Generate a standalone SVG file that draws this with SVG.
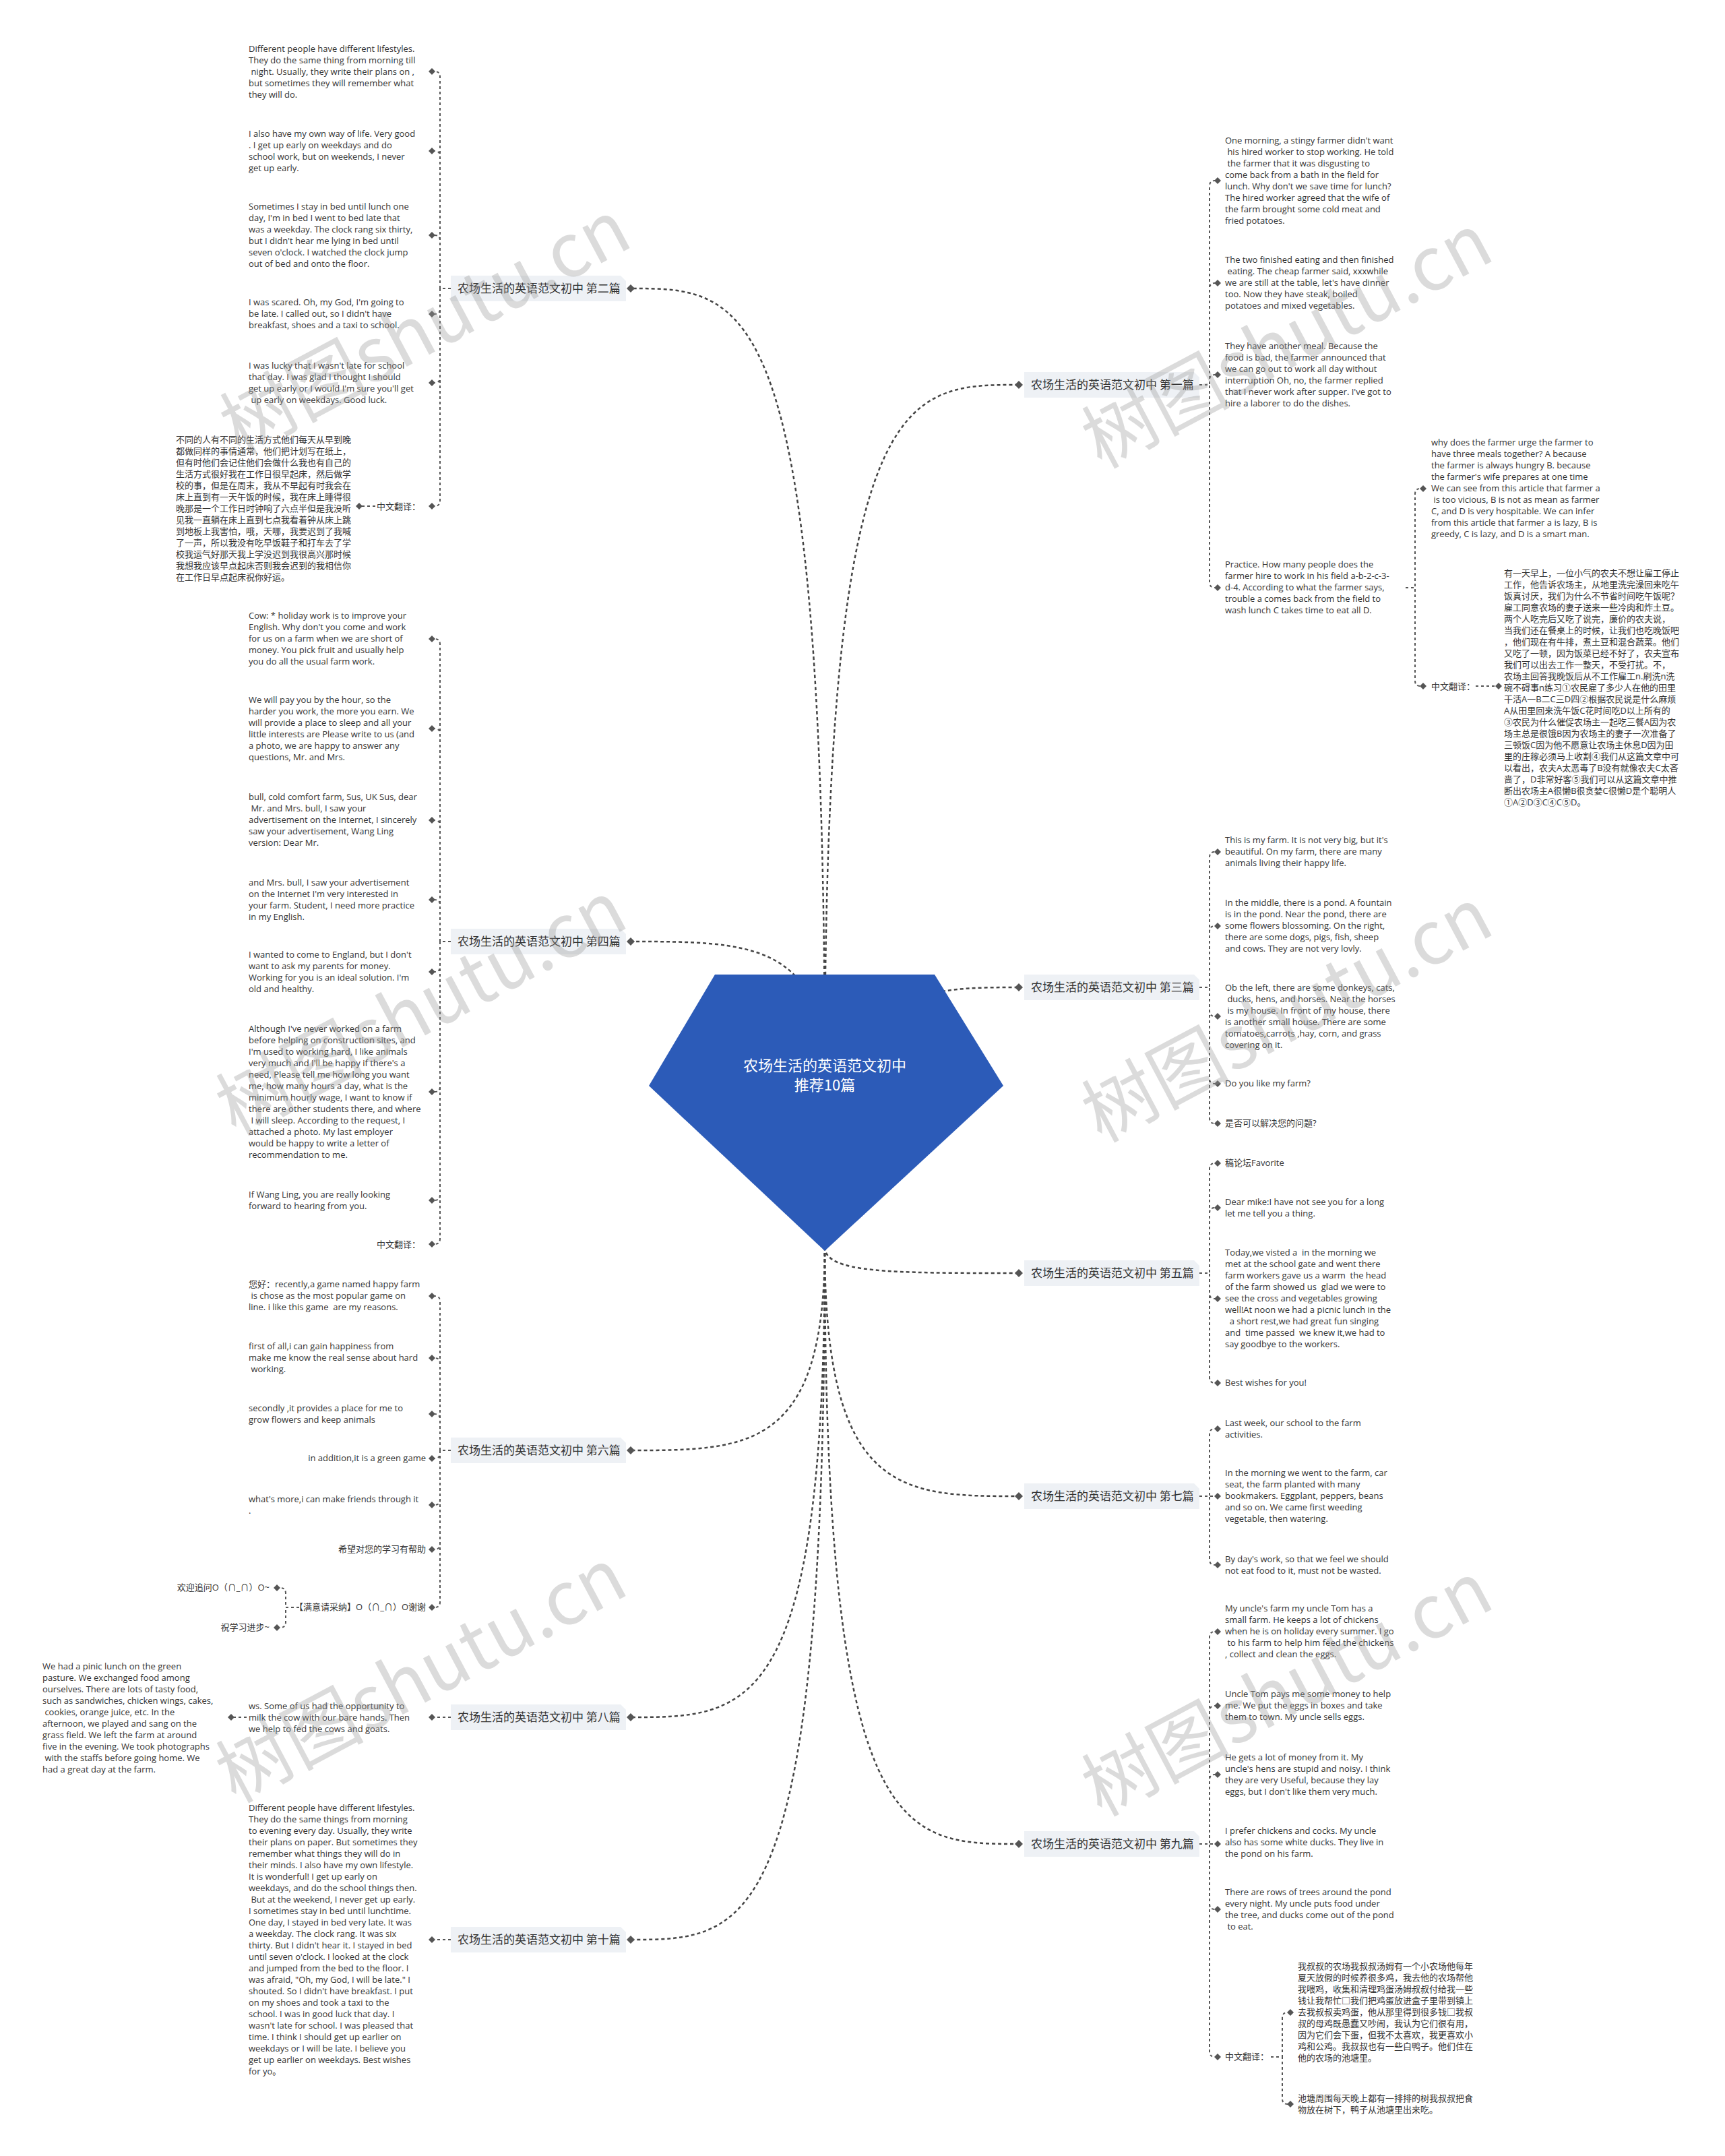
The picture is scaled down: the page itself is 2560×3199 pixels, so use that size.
<svg xmlns="http://www.w3.org/2000/svg" xmlns:xlink="http://www.w3.org/1999/xlink" width="2560" height="3199" viewBox="0 0 2560 3199">
<style>
.t{font-family:"Open Sans","Noto Sans CJK SC",sans-serif;font-size:13px;fill:#333;white-space:pre}
.lb{font-family:"Noto Sans CJK SC",sans-serif;font-size:17px;fill:#333}
.tag{fill:#eef1f5}
.c{fill:none;stroke:#555;stroke-width:2;stroke-dasharray:4 4}
.m{fill:none;stroke:#444;stroke-width:2.5;stroke-dasharray:5 4}
.dm{fill:#555}
.ct{font-family:"Noto Sans CJK SC",sans-serif;font-size:22px;fill:#fff}
.wm{font-family:"Noto Sans CJK SC","Open Sans",sans-serif;font-size:110px;fill:#999;opacity:.35}
</style>
<defs>
<path id="tag" d="M0,-19 H252 L260,-11 V19 H0 Z"/>
<path id="d" d="M0,-5 L5,0 L0,5 L-5,0 Z"/>
<path id="D" d="M0,-6 L6,0 L0,6 L-6,0 Z"/>
</defs>
<rect width="2560" height="3199" fill="#fff"/>

<g id="connectors">
<path class="m" d="M1224,1600 C1224,571 1340,571 1512,571"/>
<path class="m" d="M1224,1600 C1224,428 1110,428 936,428"/>
<path class="m" d="M1224,1600 C1300,1465 1400,1465 1512,1465"/>
<path class="m" d="M1224,1600 C1224,1397 1110,1397 936,1397"/>
<path class="m" d="M1224,1850 C1224,1889 1320,1889 1512,1889"/>
<path class="m" d="M1224,1850 C1224,2152 1110,2152 936,2152"/>
<path class="m" d="M1224,1850 C1224,2220 1340,2220 1512,2220"/>
<path class="m" d="M1224,1850 C1224,2548 1110,2548 936,2548"/>
<path class="m" d="M1224,1850 C1224,2736 1340,2736 1512,2736"/>
<path class="m" d="M1224,1850 C1224,2878 1110,2878 936,2878"/>
<path class="c" d="M669,428H653V114Q653,106 645,106"/>
<path class="c" d="M669,428H653V232Q653,224 645,224"/>
<path class="c" d="M669,428H653V357Q653,349 645,349"/>
<path class="c" d="M669,428H653V458Q653,466 645,466"/>
<path class="c" d="M669,428H653V560Q653,568 645,568"/>
<path class="c" d="M669,428H653V743Q653,751 645,751"/>
<path class="c" d="M557,751H537"/>
<path class="c" d="M669,1397H653V956Q653,948 645,948"/>
<path class="c" d="M669,1397H653V1089Q653,1081 645,1081"/>
<path class="c" d="M669,1397H653V1225Q653,1217 645,1217"/>
<path class="c" d="M669,1397H653V1343Q653,1335 645,1335"/>
<path class="c" d="M669,1397H653V1434Q653,1442 645,1442"/>
<path class="c" d="M669,1397H653V1612Q653,1620 645,1620"/>
<path class="c" d="M669,1397H653V1773Q653,1781 645,1781"/>
<path class="c" d="M669,1397H653V1838Q653,1846 645,1846"/>
<path class="c" d="M669,2152H653V1931Q653,1923 645,1923"/>
<path class="c" d="M669,2152H653V2023Q653,2015 645,2015"/>
<path class="c" d="M669,2152H653V2106Q653,2098 645,2098"/>
<path class="c" d="M669,2152H653V2156Q653,2164 645,2164"/>
<path class="c" d="M669,2152H653V2225Q653,2233 645,2233"/>
<path class="c" d="M669,2152H653V2291Q653,2299 645,2299"/>
<path class="c" d="M669,2152H653V2377Q653,2385 645,2385"/>
<path class="c" d="M444,2385H424V2364Q424,2356 416,2356"/>
<path class="c" d="M444,2385H424V2407Q424,2415 416,2415"/>
<path class="c" d="M669,2548H645"/>
<path class="c" d="M366,2548H347"/>
<path class="c" d="M669,2878H645"/>
<path class="c" d="M1780,571H1795V276Q1795,268 1803,268"/>
<path class="c" d="M1780,571H1795V428Q1795,420 1803,420"/>
<path class="c" d="M1780,571H1795V564Q1795,556 1803,556"/>
<path class="c" d="M1780,571H1795V864Q1795,872 1803,872"/>
<path class="c" d="M2086,872H2100V733Q2100,725 2108,725"/>
<path class="c" d="M2086,872H2100V1010Q2100,1018 2108,1018"/>
<path class="c" d="M2190,1018H2220"/>
<path class="c" d="M1780,1465H1795V1272Q1795,1264 1803,1264"/>
<path class="c" d="M1780,1465H1795V1382Q1795,1374 1803,1374"/>
<path class="c" d="M1780,1465H1795V1500Q1795,1508 1803,1508"/>
<path class="c" d="M1780,1465H1795V1600Q1795,1608 1803,1608"/>
<path class="c" d="M1780,1465H1795V1659Q1795,1667 1803,1667"/>
<path class="c" d="M1780,1889H1795V1734Q1795,1726 1803,1726"/>
<path class="c" d="M1780,1889H1795V1800Q1795,1792 1803,1792"/>
<path class="c" d="M1780,1889H1795V1919Q1795,1927 1803,1927"/>
<path class="c" d="M1780,1889H1795V2044Q1795,2052 1803,2052"/>
<path class="c" d="M1780,2220H1795V2128Q1795,2120 1803,2120"/>
<path class="c" d="M1780,2220H1803"/>
<path class="c" d="M1780,2220H1795V2314Q1795,2322 1803,2322"/>
<path class="c" d="M1780,2736H1795V2429Q1795,2421 1803,2421"/>
<path class="c" d="M1780,2736H1795V2539Q1795,2531 1803,2531"/>
<path class="c" d="M1780,2736H1795V2641Q1795,2633 1803,2633"/>
<path class="c" d="M1780,2736H1803"/>
<path class="c" d="M1780,2736H1795V2825Q1795,2833 1803,2833"/>
<path class="c" d="M1780,2736H1795V3044Q1795,3052 1803,3052"/>
<path class="c" d="M1886,3052H1903V2994Q1903,2986 1911,2986"/>
<path class="c" d="M1886,3052H1903V3114Q1903,3122 1911,3122"/>
<g class="dm">
<use href="#D" x="936" y="428"/><use href="#D" x="936" y="1397"/><use href="#D" x="936" y="2152"/><use href="#D" x="936" y="2548"/><use href="#D" x="936" y="2878"/>
<use href="#D" x="1512" y="571"/><use href="#D" x="1512" y="1465"/><use href="#D" x="1512" y="1889"/><use href="#D" x="1512" y="2220"/><use href="#D" x="1512" y="2736"/>
<use href="#d" x="641" y="106"/><use href="#d" x="641" y="224"/><use href="#d" x="641" y="349"/><use href="#d" x="641" y="466"/><use href="#d" x="641" y="568"/><use href="#d" x="641" y="751"/><use href="#d" x="533" y="751"/>
<use href="#d" x="641" y="948"/><use href="#d" x="641" y="1081"/><use href="#d" x="641" y="1217"/><use href="#d" x="641" y="1335"/><use href="#d" x="641" y="1442"/><use href="#d" x="641" y="1620"/><use href="#d" x="641" y="1781"/><use href="#d" x="641" y="1846"/>
<use href="#d" x="641" y="1923"/><use href="#d" x="641" y="2015"/><use href="#d" x="641" y="2098"/><use href="#d" x="641" y="2164"/><use href="#d" x="641" y="2233"/><use href="#d" x="641" y="2299"/><use href="#d" x="641" y="2385"/><use href="#d" x="411" y="2356"/><use href="#d" x="411" y="2415"/>
<use href="#d" x="641" y="2548"/><use href="#d" x="343" y="2548"/><use href="#d" x="641" y="2878"/>
<use href="#d" x="1807" y="268"/><use href="#d" x="1807" y="420"/><use href="#d" x="1807" y="556"/><use href="#d" x="1807" y="872"/><use href="#d" x="2112" y="725"/><use href="#d" x="2112" y="1018"/><use href="#d" x="2224" y="1018"/>
<use href="#d" x="1807" y="1264"/><use href="#d" x="1807" y="1374"/><use href="#d" x="1807" y="1508"/><use href="#d" x="1807" y="1608"/><use href="#d" x="1807" y="1667"/>
<use href="#d" x="1807" y="1726"/><use href="#d" x="1807" y="1792"/><use href="#d" x="1807" y="1927"/><use href="#d" x="1807" y="2052"/>
<use href="#d" x="1807" y="2120"/><use href="#d" x="1807" y="2220"/><use href="#d" x="1807" y="2322"/>
<use href="#d" x="1807" y="2421"/><use href="#d" x="1807" y="2531"/><use href="#d" x="1807" y="2633"/><use href="#d" x="1807" y="2736"/><use href="#d" x="1807" y="2833"/><use href="#d" x="1807" y="3052"/><use href="#d" x="1915" y="2986"/><use href="#d" x="1915" y="3122"/>
</g>
</g>

<g id="root">
<polygon points="1061,1446 1387,1446 1489,1611 1224,1856 963,1611" fill="#2c5bb8"/>
<text class="ct" x="1224" y="1589" text-anchor="middle">农场生活的英语范文初中</text>
<text class="ct" x="1224" y="1618" text-anchor="middle">推荐10篇</text>
</g>

<g id="b1"><use class="tag" href="#tag" x="1520" y="571"/><text class="lb" x="1530" y="577">农场生活的英语范文初中 第一篇</text></g>
<g id="b2"><use class="tag" href="#tag" x="669" y="428"/><text class="lb" x="679" y="434">农场生活的英语范文初中 第二篇</text></g>
<g id="b3"><use class="tag" href="#tag" x="1520" y="1465"/><text class="lb" x="1530" y="1471">农场生活的英语范文初中 第三篇</text></g>
<g id="b4"><use class="tag" href="#tag" x="669" y="1397"/><text class="lb" x="679" y="1403">农场生活的英语范文初中 第四篇</text></g>
<g id="b5"><use class="tag" href="#tag" x="1520" y="1889"/><text class="lb" x="1530" y="1895">农场生活的英语范文初中 第五篇</text></g>
<g id="b6"><use class="tag" href="#tag" x="669" y="2152"/><text class="lb" x="679" y="2158">农场生活的英语范文初中 第六篇</text></g>
<g id="b7"><use class="tag" href="#tag" x="1520" y="2220"/><text class="lb" x="1530" y="2226">农场生活的英语范文初中 第七篇</text></g>
<g id="b8"><use class="tag" href="#tag" x="669" y="2548"/><text class="lb" x="679" y="2554">农场生活的英语范文初中 第八篇</text></g>
<g id="b9"><use class="tag" href="#tag" x="1520" y="2736"/><text class="lb" x="1530" y="2742">农场生活的英语范文初中 第九篇</text></g>
<g id="b10"><use class="tag" href="#tag" x="669" y="2878"/><text class="lb" x="679" y="2884">农场生活的英语范文初中 第十篇</text></g>

<g id="b2-1"><text class="t" x="369" y="77"><tspan x="369">Different people have different lifestyles.</tspan><tspan x="369" dy="17">They do the same thing from morning till</tspan><tspan x="369" dy="17"> night. Usually, they write their plans on ,</tspan><tspan x="369" dy="17">but sometimes they will remember what</tspan><tspan x="369" dy="17">they will do.</tspan></text></g>
<g id="b2-2"><text class="t" x="369" y="203"><tspan x="369">I also have my own way of life. Very good</tspan><tspan x="369" dy="17">. I get up early on weekdays and do</tspan><tspan x="369" dy="17">school work, but on weekends, I never</tspan><tspan x="369" dy="17">get up early.</tspan></text></g>
<g id="b2-3"><text class="t" x="369" y="311"><tspan x="369">Sometimes I stay in bed until lunch one</tspan><tspan x="369" dy="17">day, I'm in bed I went to bed late that</tspan><tspan x="369" dy="17">was a weekday. The clock rang six thirty,</tspan><tspan x="369" dy="17">but I didn't hear me lying in bed until</tspan><tspan x="369" dy="17">seven o'clock. I watched the clock jump</tspan><tspan x="369" dy="17">out of bed and onto the floor.</tspan></text></g>
<g id="b2-4"><text class="t" x="369" y="453"><tspan x="369">I was scared. Oh, my God, I'm going to</tspan><tspan x="369" dy="17">be late. I called out, so I didn't have</tspan><tspan x="369" dy="17">breakfast, shoes and a taxi to school.</tspan></text></g>
<g id="b2-5"><text class="t" x="369" y="547"><tspan x="369">I was lucky that I wasn't late for school</tspan><tspan x="369" dy="17">that day. I was glad I thought I should</tspan><tspan x="369" dy="17">get up early or I would I'm sure you'll get</tspan><tspan x="369" dy="17"> up early on weekdays. Good luck.</tspan></text></g>
<g id="b2-6"><text class="t" x="624" y="756" text-anchor="end">中文翻译：</text></g>
<g id="b2-6-1"><text class="t" x="261" y="657"><tspan x="261">不同的人有不同的生活方式他们每天从早到晚</tspan><tspan x="261" dy="17">都做同样的事情通常，他们把计划写在纸上，</tspan><tspan x="261" dy="17">但有时他们会记住他们会做什么我也有自己的</tspan><tspan x="261" dy="17">生活方式很好我在工作日很早起床，然后做学</tspan><tspan x="261" dy="17">校的事，但是在周末，我从不早起有时我会在</tspan><tspan x="261" dy="17">床上直到有一天午饭的时候，我在床上睡得很</tspan><tspan x="261" dy="17">晚那是一个工作日时钟响了六点半但是我没听</tspan><tspan x="261" dy="17">见我一直躺在床上直到七点我看着钟从床上跳</tspan><tspan x="261" dy="17">到地板上我害怕，哦，天哪，我要迟到了我喊</tspan><tspan x="261" dy="17">了一声，所以我没有吃早饭鞋子和打车去了学</tspan><tspan x="261" dy="17">校我运气好那天我上学没迟到我很高兴那时候</tspan><tspan x="261" dy="17">我想我应该早点起床否则我会迟到的我相信你</tspan><tspan x="261" dy="17">在工作日早点起床祝你好运。</tspan></text></g>

<g id="b4-1"><text class="t" x="369" y="918"><tspan x="369">Cow: * holiday work is to improve your</tspan><tspan x="369" dy="17">English. Why don't you come and work</tspan><tspan x="369" dy="17">for us on a farm when we are short of</tspan><tspan x="369" dy="17">money. You pick fruit and usually help</tspan><tspan x="369" dy="17">you do all the usual farm work.</tspan></text></g>
<g id="b4-2"><text class="t" x="369" y="1043"><tspan x="369">We will pay you by the hour, so the</tspan><tspan x="369" dy="17">harder you work, the more you earn. We</tspan><tspan x="369" dy="17">will provide a place to sleep and all your</tspan><tspan x="369" dy="17">little interests are Please write to us (and</tspan><tspan x="369" dy="17">a photo, we are happy to answer any</tspan><tspan x="369" dy="17">questions, Mr. and Mrs.</tspan></text></g>
<g id="b4-3"><text class="t" x="369" y="1187"><tspan x="369">bull, cold comfort farm, Sus, UK Sus, dear</tspan><tspan x="369" dy="17"> Mr. and Mrs. bull, I saw your</tspan><tspan x="369" dy="17">advertisement on the Internet, I sincerely</tspan><tspan x="369" dy="17">saw your advertisement, Wang Ling</tspan><tspan x="369" dy="17">version: Dear Mr.</tspan></text></g>
<g id="b4-4"><text class="t" x="369" y="1314"><tspan x="369">and Mrs. bull, I saw your advertisement</tspan><tspan x="369" dy="17">on the Internet I'm very interested in</tspan><tspan x="369" dy="17">your farm. Student, I need more practice</tspan><tspan x="369" dy="17">in my English.</tspan></text></g>
<g id="b4-5"><text class="t" x="369" y="1421"><tspan x="369">I wanted to come to England, but I don't</tspan><tspan x="369" dy="17">want to ask my parents for money.</tspan><tspan x="369" dy="17">Working for you is an ideal solution. I'm</tspan><tspan x="369" dy="17">old and healthy.</tspan></text></g>
<g id="b4-6"><text class="t" x="369" y="1531"><tspan x="369">Although I've never worked on a farm</tspan><tspan x="369" dy="17">before helping on construction sites, and</tspan><tspan x="369" dy="17">I'm used to working hard, I like animals</tspan><tspan x="369" dy="17">very much and I'll be happy if there's a</tspan><tspan x="369" dy="17">need, Please tell me how long you want</tspan><tspan x="369" dy="17">me, how many hours a day, what is the</tspan><tspan x="369" dy="17">minimum hourly wage, I want to know if</tspan><tspan x="369" dy="17">there are other students there, and where</tspan><tspan x="369" dy="17"> I will sleep. According to the request, I</tspan><tspan x="369" dy="17">attached a photo. My last employer</tspan><tspan x="369" dy="17">would be happy to write a letter of</tspan><tspan x="369" dy="17">recommendation to me.</tspan></text></g>
<g id="b4-7"><text class="t" x="369" y="1777"><tspan x="369">If Wang Ling, you are really looking</tspan><tspan x="369" dy="17">forward to hearing from you.</tspan></text></g>
<g id="b4-8"><text class="t" x="624" y="1851" text-anchor="end">中文翻译：</text></g>

<g id="b6-1"><text class="t" x="369" y="1910"><tspan x="369">您好：recently,a game named happy farm</tspan><tspan x="369" dy="17"> is chose as the most popular game on</tspan><tspan x="369" dy="17">line. i like this game  are my reasons.</tspan></text></g>
<g id="b6-2"><text class="t" x="369" y="2002"><tspan x="369">first of all,i can gain happiness from</tspan><tspan x="369" dy="17">make me know the real sense about hard</tspan><tspan x="369" dy="17"> working.</tspan></text></g>
<g id="b6-3"><text class="t" x="369" y="2094"><tspan x="369">secondly ,it provides a place for me to</tspan><tspan x="369" dy="17">grow flowers and keep animals</tspan></text></g>
<g id="b6-4"><text class="t" x="632" y="2168" text-anchor="end">in addition,it is a green game</text></g>
<g id="b6-5"><text class="t" x="369" y="2229"><tspan x="369">what's more,i can make friends through it</tspan><tspan x="369" dy="17">.</tspan></text></g>
<g id="b6-6"><text class="t" x="632" y="2303" text-anchor="end">希望对您的学习有帮助</text></g>
<g id="b6-7"><text class="t" x="632" y="2389" text-anchor="end">【满意请采纳】O（∩_∩）O谢谢</text></g>
<g id="b6-7-1"><text class="t" x="400" y="2360" text-anchor="end">欢迎追问O（∩_∩）O~</text></g>
<g id="b6-7-2"><text class="t" x="400" y="2419" text-anchor="end">祝学习进步~</text></g>

<g id="b8-1"><text class="t" x="369" y="2536"><tspan x="369">ws. Some of us had the opportunity to</tspan><tspan x="369" dy="17">milk the cow with our bare hands. Then</tspan><tspan x="369" dy="17">we help to fed the cows and goats.</tspan></text></g>
<g id="b8-1-1"><text class="t" x="63" y="2477"><tspan x="63">We had a pinic lunch on the green</tspan><tspan x="63" dy="17">pasture. We exchanged food among</tspan><tspan x="63" dy="17">ourselves. There are lots of tasty food,</tspan><tspan x="63" dy="17">such as sandwiches, chicken wings, cakes,</tspan><tspan x="63" dy="17"> cookies, orange juice, etc. In the</tspan><tspan x="63" dy="17">afternoon, we played and sang on the</tspan><tspan x="63" dy="17">grass field. We left the farm at around</tspan><tspan x="63" dy="17">five in the evening. We took photographs</tspan><tspan x="63" dy="17"> with the staffs before going home. We</tspan><tspan x="63" dy="17">had a great day at the farm.</tspan></text></g>

<g id="b10-1"><text class="t" x="369" y="2687"><tspan x="369">Different people have different lifestyles.</tspan><tspan x="369" dy="17">They do the same things from morning</tspan><tspan x="369" dy="17">to evening every day. Usually, they write</tspan><tspan x="369" dy="17">their plans on paper. But sometimes they</tspan><tspan x="369" dy="17">remember what things they will do in</tspan><tspan x="369" dy="17">their minds. I also have my own lifestyle.</tspan><tspan x="369" dy="17">It is wonderful! I get up early on</tspan><tspan x="369" dy="17">weekdays, and do the school things then.</tspan><tspan x="369" dy="17"> But at the weekend, I never get up early.</tspan><tspan x="369" dy="17">I sometimes stay in bed until lunchtime.</tspan><tspan x="369" dy="17">One day, I stayed in bed very late. It was</tspan><tspan x="369" dy="17">a weekday. The clock rang. It was six</tspan><tspan x="369" dy="17">thirty. But I didn't hear it. I stayed in bed</tspan><tspan x="369" dy="17">until seven o'clock. I looked at the clock</tspan><tspan x="369" dy="17">and jumped from the bed to the floor. I</tspan><tspan x="369" dy="17">was afraid, "Oh, my God, I will be late." I</tspan><tspan x="369" dy="17">shouted. So I didn't have breakfast. I put</tspan><tspan x="369" dy="17">on my shoes and took a taxi to the</tspan><tspan x="369" dy="17">school. I was in good luck that day. I</tspan><tspan x="369" dy="17">wasn't late for school. I was pleased that</tspan><tspan x="369" dy="17">time. I think I should get up earlier on</tspan><tspan x="369" dy="17">weekdays or I will be late. I believe you</tspan><tspan x="369" dy="17">get up earlier on weekdays. Best wishes</tspan><tspan x="369" dy="17">for yo。</tspan></text></g>

<g id="b1-1"><text class="t" x="1818" y="213"><tspan x="1818">One morning, a stingy farmer didn't want</tspan><tspan x="1818" dy="17"> his hired worker to stop working. He told</tspan><tspan x="1818" dy="17"> the farmer that it was disgusting to</tspan><tspan x="1818" dy="17">come back from a bath in the field for</tspan><tspan x="1818" dy="17">lunch. Why don't we save time for lunch?</tspan><tspan x="1818" dy="17">The hired worker agreed that the wife of</tspan><tspan x="1818" dy="17">the farm brought some cold meat and</tspan><tspan x="1818" dy="17">fried potatoes.</tspan></text></g>
<g id="b1-2"><text class="t" x="1818" y="390"><tspan x="1818">The two finished eating and then finished</tspan><tspan x="1818" dy="17"> eating. The cheap farmer said, xxxwhile</tspan><tspan x="1818" dy="17">we are still at the table, let's have dinner</tspan><tspan x="1818" dy="17">too. Now they have steak, boiled</tspan><tspan x="1818" dy="17">potatoes and mixed vegetables.</tspan></text></g>
<g id="b1-3"><text class="t" x="1818" y="518"><tspan x="1818">They have another meal. Because the</tspan><tspan x="1818" dy="17">food is bad, the farmer announced that</tspan><tspan x="1818" dy="17">we can go out to work all day without</tspan><tspan x="1818" dy="17">interruption Oh, no, the farmer replied</tspan><tspan x="1818" dy="17">that I never work after supper. I've got to</tspan><tspan x="1818" dy="17">hire a laborer to do the dishes.</tspan></text></g>
<g id="b1-4"><text class="t" x="1818" y="842"><tspan x="1818">Practice. How many people does the</tspan><tspan x="1818" dy="17">farmer hire to work in his field a-b-2-c-3-</tspan><tspan x="1818" dy="17">d-4. According to what the farmer says,</tspan><tspan x="1818" dy="17">trouble a comes back from the field to</tspan><tspan x="1818" dy="17">wash lunch C takes time to eat all D.</tspan></text></g>
<g id="b1-4-1"><text class="t" x="2124" y="661"><tspan x="2124">why does the farmer urge the farmer to</tspan><tspan x="2124" dy="17">have three meals together? A because</tspan><tspan x="2124" dy="17">the farmer is always hungry B. because</tspan><tspan x="2124" dy="17">the farmer's wife prepares at one time</tspan><tspan x="2124" dy="17">We can see from this article that farmer a</tspan><tspan x="2124" dy="17"> is too vicious, B is not as mean as farmer</tspan><tspan x="2124" dy="17">C, and D is very hospitable. We can infer</tspan><tspan x="2124" dy="17">from this article that farmer a is lazy, B is</tspan><tspan x="2124" dy="17">greedy, C is lazy, and D is a smart man.</tspan></text></g>
<g id="b1-4-2"><text class="t" x="2124" y="1023">中文翻译：</text></g>
<g id="b1-4-2-1"><text class="t" x="2232" y="855"><tspan x="2232">有一天早上，一位小气的农夫不想让雇工停止</tspan><tspan x="2232" dy="17">工作，他告诉农场主，从地里洗完澡回来吃午</tspan><tspan x="2232" dy="17">饭真讨厌，我们为什么不节省时间吃午饭呢？</tspan><tspan x="2232" dy="17">雇工同意农场的妻子送来一些冷肉和炸土豆。</tspan><tspan x="2232" dy="17">两个人吃完后又吃了说完，廉价的农夫说，</tspan><tspan x="2232" dy="17">当我们还在餐桌上的时候，让我们也吃晚饭吧</tspan><tspan x="2232" dy="17">，他们现在有牛排，煮土豆和混合蔬菜。他们</tspan><tspan x="2232" dy="17">又吃了一顿，因为饭菜已经不好了，农夫宣布</tspan><tspan x="2232" dy="17">我们可以出去工作一整天，不受打扰。不，</tspan><tspan x="2232" dy="17">农场主回答我晚饭后从不工作雇工n.刷洗n洗</tspan><tspan x="2232" dy="17">碗不碍事n练习①农民雇了多少人在他的田里</tspan><tspan x="2232" dy="17">干活A一B二C三D四②根据农民说是什么麻烦</tspan><tspan x="2232" dy="17">A从田里回来洗午饭C花时间吃D以上所有的</tspan><tspan x="2232" dy="17">③农民为什么催促农场主一起吃三餐A因为农</tspan><tspan x="2232" dy="17">场主总是很饿B因为农场主的妻子一次准备了</tspan><tspan x="2232" dy="17">三顿饭C因为他不愿意让农场主休息D因为田</tspan><tspan x="2232" dy="17">里的庄稼必须马上收割④我们从这篇文章中可</tspan><tspan x="2232" dy="17">以看出，农夫A太恶毒了B没有就像农夫C太吝</tspan><tspan x="2232" dy="17">啬了，D非常好客⑤我们可以从这篇文章中推</tspan><tspan x="2232" dy="17">断出农场主A很懒B很贪婪C很懒D是个聪明人</tspan><tspan x="2232" dy="17">①A②D③C④C⑤D。</tspan></text></g>

<g id="b3-1"><text class="t" x="1818" y="1251"><tspan x="1818">This is my farm. It is not very big, but it's</tspan><tspan x="1818" dy="17">beautiful. On my farm, there are many</tspan><tspan x="1818" dy="17">animals living their happy life.</tspan></text></g>
<g id="b3-2"><text class="t" x="1818" y="1344"><tspan x="1818">In the middle, there is a pond. A fountain</tspan><tspan x="1818" dy="17">is in the pond. Near the pond, there are</tspan><tspan x="1818" dy="17">some flowers blossoming. On the right,</tspan><tspan x="1818" dy="17">there are some dogs, pigs, fish, sheep</tspan><tspan x="1818" dy="17">and cows. They are not very lovly.</tspan></text></g>
<g id="b3-3"><text class="t" x="1818" y="1470"><tspan x="1818">Ob the left, there are some donkeys, cats,</tspan><tspan x="1818" dy="17"> ducks, hens, and horses. Near the horses</tspan><tspan x="1818" dy="17"> is my house. In front of my house, there</tspan><tspan x="1818" dy="17">is another small house. There are some</tspan><tspan x="1818" dy="17">tomatoes,carrots ,hay, corn, and grass</tspan><tspan x="1818" dy="17">covering on it.</tspan></text></g>
<g id="b3-4"><text class="t" x="1818" y="1612">Do you like my farm?</text></g>
<g id="b3-5"><text class="t" x="1818" y="1671">是否可以解决您的问题?</text></g>

<g id="b5-1"><text class="t" x="1818" y="1730">稿论坛Favorite</text></g>
<g id="b5-2"><text class="t" x="1818" y="1788"><tspan x="1818">Dear mike:I have not see you for a long</tspan><tspan x="1818" dy="17">let me tell you a thing.</tspan></text></g>
<g id="b5-3"><text class="t" x="1818" y="1863"><tspan x="1818">Today,we visted a  in the morning we</tspan><tspan x="1818" dy="17">met at the school gate and went there</tspan><tspan x="1818" dy="17">farm workers gave us a warm  the head</tspan><tspan x="1818" dy="17">of the farm showed us  glad we were to</tspan><tspan x="1818" dy="17">see the cross and vegetables growing</tspan><tspan x="1818" dy="17">well!At noon we had a picnic lunch in the</tspan><tspan x="1818" dy="17">  a short rest,we had great fun singing</tspan><tspan x="1818" dy="17">and  time passed  we knew it,we had to</tspan><tspan x="1818" dy="17">say goodbye to the workers.</tspan></text></g>
<g id="b5-4"><text class="t" x="1818" y="2056">Best wishes for you!</text></g>

<g id="b7-1"><text class="t" x="1818" y="2116"><tspan x="1818">Last week, our school to the farm</tspan><tspan x="1818" dy="17">activities.</tspan></text></g>
<g id="b7-2"><text class="t" x="1818" y="2190"><tspan x="1818">In the morning we went to the farm, car</tspan><tspan x="1818" dy="17">seat, the farm planted with many</tspan><tspan x="1818" dy="17">bookmakers. Eggplant, peppers, beans</tspan><tspan x="1818" dy="17">and so on. We came first weeding</tspan><tspan x="1818" dy="17">vegetable, then watering.</tspan></text></g>
<g id="b7-3"><text class="t" x="1818" y="2318"><tspan x="1818">By day's work, so that we feel we should</tspan><tspan x="1818" dy="17">not eat food to it, must not be wasted.</tspan></text></g>

<g id="b9-1"><text class="t" x="1818" y="2391"><tspan x="1818">My uncle's farm my uncle Tom has a</tspan><tspan x="1818" dy="17">small farm. He keeps a lot of chickens</tspan><tspan x="1818" dy="17">when he is on holiday every summer. I go</tspan><tspan x="1818" dy="17"> to his farm to help him feed the chickens</tspan><tspan x="1818" dy="17">, collect and clean the eggs.</tspan></text></g>
<g id="b9-2"><text class="t" x="1818" y="2518"><tspan x="1818">Uncle Tom pays me some money to help</tspan><tspan x="1818" dy="17">me. We put the eggs in boxes and take</tspan><tspan x="1818" dy="17">them to town. My uncle sells eggs.</tspan></text></g>
<g id="b9-3"><text class="t" x="1818" y="2612"><tspan x="1818">He gets a lot of money from it. My</tspan><tspan x="1818" dy="17">uncle's hens are stupid and noisy. I think</tspan><tspan x="1818" dy="17">they are very Useful, because they lay</tspan><tspan x="1818" dy="17">eggs, but I don't like them very much.</tspan></text></g>
<g id="b9-4"><text class="t" x="1818" y="2721"><tspan x="1818">I prefer chickens and cocks. My uncle</tspan><tspan x="1818" dy="17">also has some white ducks. They live in</tspan><tspan x="1818" dy="17">the pond on his farm.</tspan></text></g>
<g id="b9-5"><text class="t" x="1818" y="2812"><tspan x="1818">There are rows of trees around the pond</tspan><tspan x="1818" dy="17">every night. My uncle puts food under</tspan><tspan x="1818" dy="17">the tree, and ducks come out of the pond</tspan><tspan x="1818" dy="17"> to eat.</tspan></text></g>
<g id="b9-6"><text class="t" x="1818" y="3056">中文翻译：</text></g>
<g id="b9-6-1"><text class="t" x="1926" y="2922"><tspan x="1926">我叔叔的农场我叔叔汤姆有一个小农场他每年</tspan><tspan x="1926" dy="17">夏天放假的时候养很多鸡，我去他的农场帮他</tspan><tspan x="1926" dy="17">我喂鸡，收集和清理鸡蛋汤姆叔叔付给我一些</tspan><tspan x="1926" dy="17">钱让我帮忙□我们把鸡蛋放进盒子里带到镇上</tspan><tspan x="1926" dy="17">去我叔叔卖鸡蛋，他从那里得到很多钱□我叔</tspan><tspan x="1926" dy="17">叔的母鸡既愚蠢又吵闹，我认为它们很有用，</tspan><tspan x="1926" dy="17">因为它们会下蛋，但我不太喜欢，我更喜欢小</tspan><tspan x="1926" dy="17">鸡和公鸡。我叔叔也有一些白鸭子。他们住在</tspan><tspan x="1926" dy="17">他的农场的池塘里。</tspan></text></g>
<g id="b9-6-2"><text class="t" x="1926" y="3118"><tspan x="1926">池塘周围每天晚上都有一排排的树我叔叔把食</tspan><tspan x="1926" dy="17">物放在树下，鸭子从池塘里出来吃。</tspan></text></g>

<g id="watermarks">
<text class="wm" text-anchor="middle" transform="translate(649,520) rotate(-28)">树图shutu.cn</text>
<text class="wm" text-anchor="middle" transform="translate(1928,540) rotate(-28)">树图shutu.cn</text>
<text class="wm" text-anchor="middle" transform="translate(643,1530) rotate(-28)">树图shutu.cn</text>
<text class="wm" text-anchor="middle" transform="translate(1928,1540) rotate(-28)">树图shutu.cn</text>
<text class="wm" text-anchor="middle" transform="translate(643,2520) rotate(-28)">树图shutu.cn</text>
<text class="wm" text-anchor="middle" transform="translate(1928,2540) rotate(-28)">树图shutu.cn</text>
</g>
</svg>
